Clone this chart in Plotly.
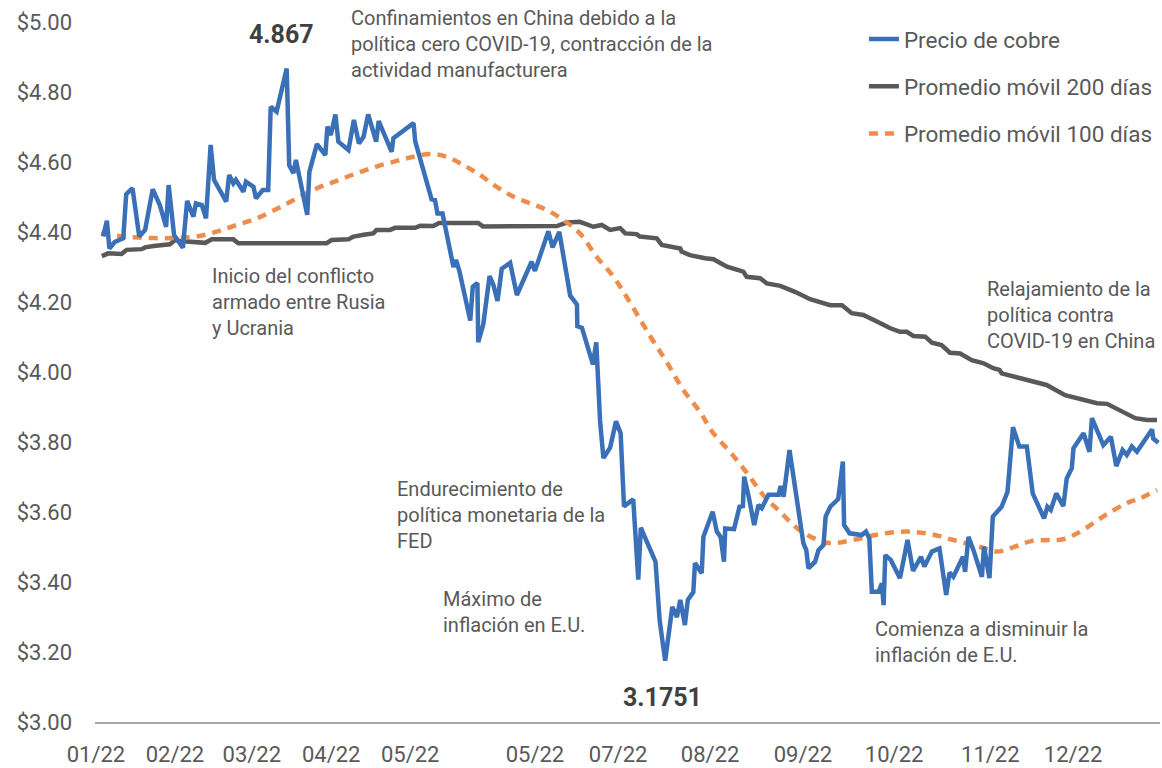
import plotly.graph_objects as go

# ---------------- data ----------------
# x = trading-day index across 2022 (0 = first trading day of January)
blue_day = [0.5, 1.4, 2.0, 3.3, 5.3, 6.0, 7.5, 9.1, 10.5, 12.3, 14.0, 15.5, 16.1, 17.4, 19.5, 20.5,
            22.0, 22.6, 24.0, 25.0, 26.1, 26.9, 29.8, 30.5, 31.5, 32.1, 33.9, 34.5, 36.3, 36.9, 38.5,
            39.8, 40.4, 41.8, 44.2, 44.8, 45.8, 46.4, 49.1, 49.6, 51.4, 53.4, 53.9, 54.7, 55.8, 56.5,
            58.9, 60.2, 61.4, 62.5, 63.6, 65.5, 66.1, 69.2, 69.6, 74.4, 74.8, 78.7, 79.5, 80.1, 81.3,
            83.9, 84.5, 85.3, 87.9, 88.5, 89.6, 89.8, 91.0, 92.5, 93.4, 94.4, 95.4, 97.4, 99.0, 102.5,
            103.3, 106.5, 107.5, 109.1, 111.7, 113.3, 113.4, 114.5, 117.1, 117.9, 118.8, 119.6, 121.2,
            122.6, 123.7, 124.5, 126.7, 127.9, 128.5, 132.0, 133.0, 134.3, 136.0, 137.1, 137.9, 139.0,
            139.7, 141.0, 141.4, 143.0, 143.4, 145.6, 146.6, 147.5, 148.3, 148.6, 150.7, 152.0, 152.8,
            153.1, 154.1, 155.5, 156.5, 157.3, 158.9, 161.3, 161.8, 162.5, 163.9, 166.8, 167.2, 167.9,
            168.4, 170.0, 170.8, 172.0, 172.5, 173.6, 175.5, 176.6, 176.9, 178.2, 181.1, 182.1, 182.9,
            183.5, 185.1, 185.9, 186.3, 186.7, 188.0, 190.2, 192.0, 193.3, 195.2, 196.0, 197.8, 199.6,
            201.2, 202.0, 202.9, 205.2, 205.7, 206.5, 207.7, 209.7, 210.2, 211.5, 212.3, 214.4, 215.8,
            217.1, 218.6, 220.4, 221.8, 224.5, 225.3, 226.1, 227.4, 229.1, 229.9, 231.1, 231.5, 233.9,
            235.3, 235.9, 238.6, 240.4, 241.7, 243.2, 244.2, 245.4, 246.6, 250.2, 250.5, 251.7]
blue_price = [4.387, 4.432, 4.353, 4.372, 4.382, 4.508, 4.525, 4.387, 4.406, 4.522, 4.477, 4.415, 4.534,
              4.391, 4.355, 4.489, 4.444, 4.482, 4.477, 4.439, 4.649, 4.549, 4.487, 4.563, 4.539, 4.549,
              4.515, 4.544, 4.529, 4.496, 4.520, 4.520, 4.758, 4.744, 4.867, 4.591, 4.568, 4.606, 4.449,
              4.572, 4.651, 4.620, 4.701, 4.677, 4.736, 4.658, 4.634, 4.720, 4.653, 4.672, 4.736, 4.658,
              4.717, 4.629, 4.668, 4.711, 4.659, 4.493, 4.491, 4.453, 4.453, 4.300, 4.320, 4.289, 4.147,
              4.243, 4.254, 4.085, 4.136, 4.274, 4.249, 4.203, 4.295, 4.312, 4.220, 4.315, 4.289, 4.402,
              4.356, 4.400, 4.218, 4.193, 4.131, 4.126, 4.022, 4.085, 3.861, 3.754, 3.784, 3.859, 3.825,
              3.616, 3.636, 3.407, 3.555, 3.458, 3.289, 3.1751, 3.329, 3.300, 3.349, 3.277, 3.349, 3.371,
              3.454, 3.425, 3.529, 3.601, 3.544, 3.529, 3.458, 3.553, 3.551, 3.615, 3.617, 3.701, 3.649,
              3.563, 3.620, 3.611, 3.649, 3.649, 3.674, 3.644, 3.777, 3.534, 3.511, 3.491, 3.439, 3.458,
              3.491, 3.506, 3.587, 3.615, 3.637, 3.744, 3.563, 3.539, 3.534, 3.544, 3.525, 3.372, 3.372,
              3.396, 3.334, 3.477, 3.463, 3.411, 3.520, 3.432, 3.472, 3.444, 3.487, 3.496, 3.363, 3.427,
              3.415, 3.472, 3.429, 3.529, 3.491, 3.415, 3.501, 3.411, 3.587, 3.615, 3.658, 3.842, 3.787,
              3.787, 3.653, 3.582, 3.615, 3.606, 3.653, 3.617, 3.696, 3.725, 3.782, 3.825, 3.772, 3.868,
              3.791, 3.815, 3.731, 3.777, 3.763, 3.787, 3.772, 3.836, 3.810, 3.798]

ma200_day = [0.2, 1.7, 4.9, 6.1, 9.7, 10.5, 12.5, 16.4, 17.6, 18.8, 24.8, 26.4, 31.5, 32.7, 53.7, 54.9,
             58.9, 60.1, 62.9, 64.8, 65.6, 68.8, 70.0, 74.8, 76.0, 79.1, 80.5, 89.8, 90.9, 108.5, 110.9,
             114.0, 117.2, 119.2, 121.2, 123.6, 124.8, 127.5, 128.3, 132.3, 133.5, 137.9, 138.2, 140.2,
             143.8, 145.8, 149.0, 152.9, 153.7, 156.9, 158.5, 161.7, 165.2, 168.8, 173.6, 176.4, 178.7,
             181.5, 184.7, 187.9, 190.2, 191.8, 193.4, 196.2, 197.8, 200.1, 202.1, 204.5, 207.3, 210.1,
             212.4, 213.9, 214.4, 217.2, 220.8, 225.1, 229.5, 234.7, 237.1, 239.5, 241.8, 246.2, 249.0,
             251.4]
ma200_price = [4.331, 4.339, 4.337, 4.349, 4.351, 4.356, 4.360, 4.365, 4.377, 4.374, 4.369, 4.379, 4.379,
               4.368, 4.368, 4.377, 4.379, 4.387, 4.393, 4.396, 4.406, 4.406, 4.412, 4.412, 4.418, 4.417,
               4.426, 4.426, 4.416, 4.417, 4.427, 4.429, 4.415, 4.420, 4.406, 4.411, 4.396, 4.394, 4.387,
               4.382, 4.363, 4.353, 4.344, 4.334, 4.325, 4.322, 4.301, 4.287, 4.272, 4.268, 4.253, 4.246,
               4.229, 4.208, 4.191, 4.191, 4.168, 4.163, 4.144, 4.125, 4.115, 4.115, 4.103, 4.101, 4.084,
               4.077, 4.055, 4.053, 4.034, 4.025, 4.011, 4.006, 3.996, 3.987, 3.977, 3.963, 3.934, 3.920,
               3.911, 3.909, 3.896, 3.868, 3.863, 3.863]

ma100_day = [0.0, 5.3, 9.3, 15.6, 19.6, 22.8, 27.5, 32.3, 37.1, 41.8, 46.6, 51.4, 56.1, 60.9, 65.6, 70.4,
             74.4, 78.3, 82.3, 86.3, 90.2, 94.2, 98.2, 102.1, 106.1, 110.1, 114.0, 118.0, 122.0, 125.1,
             130.7, 134.8, 138.6, 142.6, 145.7, 149.8, 153.8, 157.6, 161.7, 165.7, 169.5, 173.6, 179.0,
             185.5, 191.8, 197.4, 202.9, 209.3, 213.3, 217.1, 221.2, 225.9, 229.0, 232.4, 236.2, 239.5,
             244.3, 247.4, 251.4]
ma100_price = [4.396, 4.387, 4.384, 4.382, 4.384, 4.387, 4.401, 4.420, 4.439, 4.466, 4.496, 4.525, 4.546,
               4.568, 4.587, 4.603, 4.615, 4.623, 4.615, 4.591, 4.563, 4.529, 4.501, 4.482, 4.463, 4.434,
               4.396, 4.329, 4.272, 4.215, 4.103, 4.026, 3.949, 3.886, 3.826, 3.771, 3.711, 3.649, 3.600,
               3.554, 3.526, 3.511, 3.520, 3.537, 3.544, 3.537, 3.520, 3.500, 3.487, 3.499, 3.516, 3.520,
               3.522, 3.539, 3.568, 3.594, 3.626, 3.639, 3.663]

tick_days = [-1.2, 17.6, 35.9, 54.8, 73.6, 103.3, 123.1, 145.0, 167.1, 188.8, 211.7, 231.4]
tick_labels = ["01/22", "02/22", "03/22", "04/22", "05/22", "05/22", "07/22", "08/22", "09/22",
               "10/22", "11/22", "12/22"]

y_ticks = [3.0, 3.2, 3.4, 3.6, 3.8, 4.0, 4.2, 4.4, 4.6, 4.8, 5.0]
y_tick_labels = ["$3.00", "$3.20", "$3.40", "$3.60", "$3.80", "$4.00", "$4.20", "$4.40", "$4.60",
                 "$4.80", "$5.00"]

# ---------------- figure ----------------
FONT = "Roboto"
TXT = "#595959"
BLUE = "#3A70B8"
GRAY = "#595959"
ORANGE = "#EE8D4B"

fig = go.Figure()
fig.add_trace(go.Scatter(x=ma200_day, y=ma200_price, mode="lines", name="Promedio móvil 200 días",
                         line=dict(color=GRAY, width=4.5), legendrank=2, legendgroup="b"))
fig.add_trace(go.Scatter(x=ma100_day, y=ma100_price, mode="lines", name="Promedio móvil 100 días",
                         line=dict(color=ORANGE, width=4.5, dash="9px,7px", shape="spline"),
                         legendrank=3, legendgroup="c"))
fig.add_trace(go.Scatter(x=blue_day, y=blue_price, mode="lines", name="Precio de cobre",
                         line=dict(color=BLUE, width=4.5), legendrank=1, legendgroup="a"))

notes = [
    (42.9, 4.963, "<b>4.867</b>", "center", 25, "#404040"),
    (59.3, 4.937, "Confinamientos en China debido a la<br>política cero COVID-19, contracción de la<br>actividad manufacturera", "left", 20, TXT),
    (26.2, 4.200, "Inicio del conflicto<br>armado entre Rusia<br>y Ucrania", "left", 20, TXT),
    (70.2, 3.591, "Endurecimiento de<br>política monetaria de la<br>FED", "left", 20, TXT),
    (81.2, 3.314, "Máximo de<br>inflación en E.U.", "left", 20, TXT),
    (133.6, 3.071, "<b>3.1751</b>", "center", 25, "#404040"),
    (184.0, 3.229, "Comienza a disminuir la<br>inflación de E.U.", "left", 20, TXT),
    (210.7, 4.163, "Relajamiento de la<br>política contra<br>COVID-19 en China", "left", 20, TXT),
]
for x, y, t, anchor, size, col in notes:
    fig.add_annotation(x=x, y=y, text=t, xanchor=anchor, yanchor="middle", align=anchor,
                       showarrow=False, borderpad=0, font=dict(family=FONT, size=size, color=col))

fig.update_layout(
    width=1162, height=768,
    margin=dict(l=95, r=2, t=22, b=46, autoexpand=False),
    paper_bgcolor="white", plot_bgcolor="white",
    font=dict(family=FONT, color=TXT),
    legend=dict(x=0.722, y=1.006, xanchor="left", yanchor="top", traceorder="grouped",
                tracegroupgap=15, font=dict(family=FONT, size=22.5, color=TXT),
                bgcolor="rgba(0,0,0,0)"),
    xaxis=dict(range=[-1.43, 252.1], tickmode="array", tickvals=tick_days, ticktext=tick_labels,
               showgrid=False, zeroline=False, showline=True, linecolor="#A6A6A6", linewidth=2,
               ticks="", tickfont=dict(family=FONT, size=22, color=TXT), ticklabelstandoff=12,
               automargin=False),
    yaxis=dict(range=[3.0, 5.0], tickmode="array", tickvals=y_ticks, ticktext=y_tick_labels,
               showgrid=False, zeroline=False, showline=False, ticks="",
               tickfont=dict(family=FONT, size=22, color=TXT), ticklabelstandoff=22,
               automargin=False),
)

# remove the default 8px page margin so the 1162x768 figure fills the window exactly
fig.write_html("out.html", config={"displayModeBar": False},
               post_script="document.body.style.margin='0';document.body.style.overflow='hidden';")
